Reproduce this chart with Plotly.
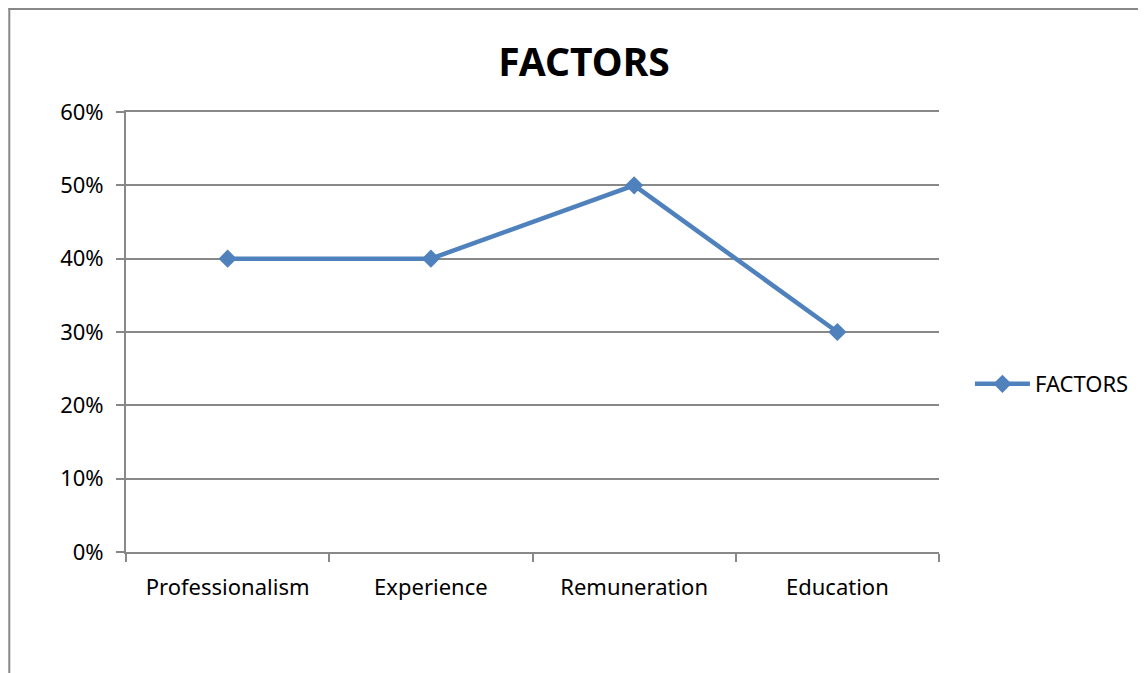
import plotly.graph_objects as go

categories = ["Professionalism", "Experience", "Remuneration", "Education"]
values = [0.40, 0.40, 0.50, 0.30]
series_name = "FACTORS"
title_text = "FACTORS"
y_ticks = [0, 0.1, 0.2, 0.3, 0.4, 0.5, 0.6]
y_tick_labels = ["0%", "10%", "20%", "30%", "40%", "50%", "60%"]

# page geometry (browser body has an 8px margin)
OFF = 8
PW, PH = 1146, 673
PX0, PX1, PY0, PY1 = 126, 941, 112, 552  # plot area in page pixels

W, H = PW - OFF, PH - OFF
L = PX0 - OFF
T = PY0 - OFF
R = W - (PX1 - OFF)
B = H - (PY1 - OFF)
pw, ph = PX1 - PX0, PY1 - PY0


def fx(x):
    return (x - PX0) / pw


def fy(y):
    return 1 - (y - PY0) / ph


fig = go.Figure()
fig.add_trace(go.Scatter(
    x=categories, y=values, name=series_name, mode="lines+markers",
    line=dict(color="#4F81BD", width=4.5),
    marker=dict(symbol="diamond", size=14, color="#4F81BD"),
))

FONT = "Noto Sans, Liberation Sans, sans-serif"
axis_font = dict(family=FONT, size=22, color="#000")

fig.update_layout(
    width=W, height=H,
    margin=dict(l=L, r=R, t=T, b=B),
    paper_bgcolor="white", plot_bgcolor="white",
    showlegend=True,
    title=dict(text="<b>" + title_text + "</b>", x=(584 - OFF) / W, xanchor="center",
               xref="container", y=1 - (62 - OFF) / H, yanchor="middle",
               font=dict(family=FONT, size=39, color="#000")),
    legend=dict(x=fx(972), y=fy(384), yanchor="middle", xanchor="left",
                font=axis_font, bgcolor="rgba(0,0,0,0)", itemwidth=55),
    xaxis=dict(
        type="category", range=[-0.5, 3.5], tickson="boundaries",
        ticks="outside", ticklen=8, tickcolor="#888", tickwidth=2,
        showline=True, linecolor="#888", linewidth=2, mirror=True,
        showgrid=False, tickfont=axis_font, ticklabelstandoff=15,
    ),
    yaxis=dict(
        range=[0, 0.6], tickvals=y_ticks, ticktext=y_tick_labels,
        ticks="outside", ticklen=8, tickcolor="#888", tickwidth=2,
        showline=True, linecolor="#888", linewidth=2,
        showgrid=True, gridcolor="#888", gridwidth=2,
        zeroline=False, tickfont=axis_font, ticklabelstandoff=8,
    ),
    shapes=[
        dict(type="line", xref="paper", yref="paper",
             x0=fx(8), x1=fx(PW + 10), y0=fy(9), y1=fy(9),
             line=dict(color="#888", width=2)),
        dict(type="line", xref="paper", yref="paper",
             x0=fx(9), x1=fx(9), y0=fy(8), y1=fy(PH + 10),
             line=dict(color="#888", width=2)),
    ],
)

fig.write_html("out.html")
